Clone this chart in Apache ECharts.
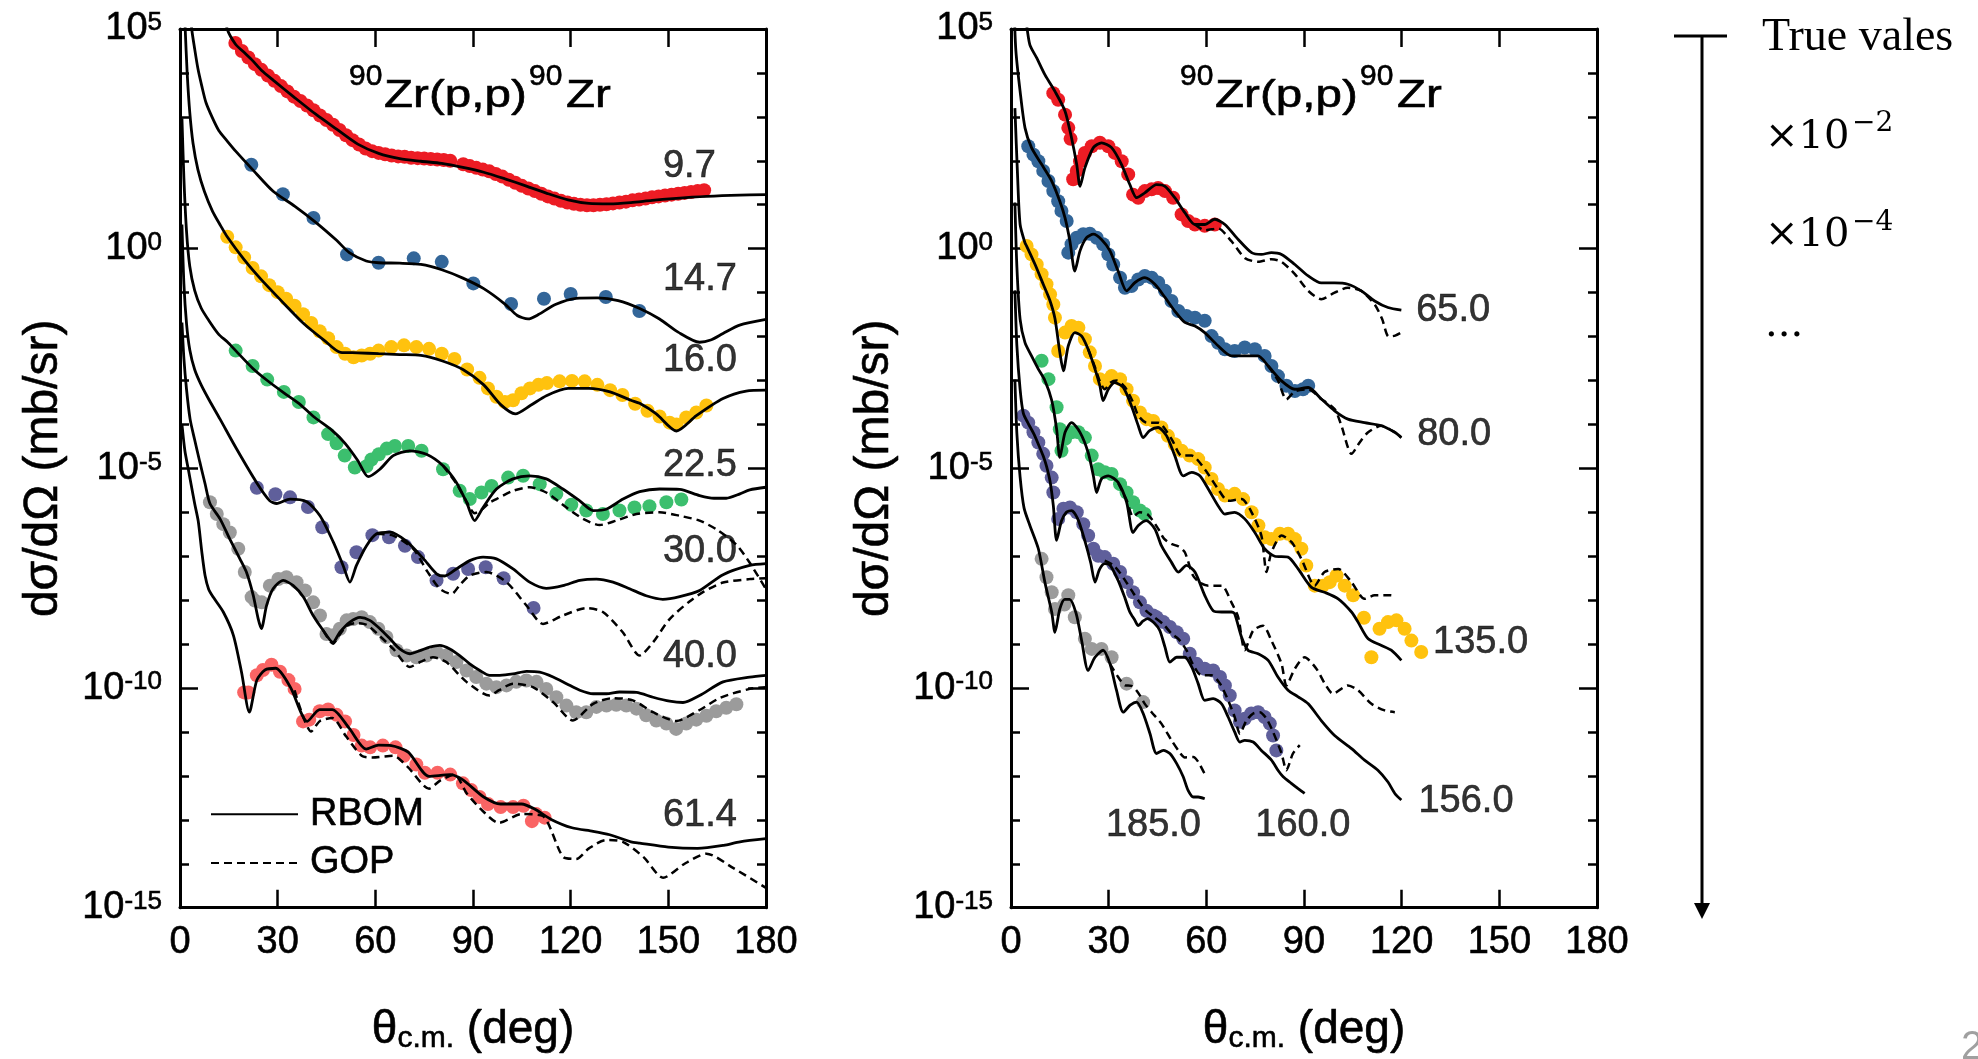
<!DOCTYPE html>
<html><head><meta charset="utf-8">
<script src="https://cdn.jsdelivr.net/npm/echarts@6/dist/echarts.min.js"></script>
<style>html,body{margin:0;padding:0;background:#fff}#c{width:1978px;height:1059px}</style>
</head><body><div id="c"></div>
<script>
// ---------- DATA (x = theta c.m. in deg, y = log10 of plotted dσ/dΩ) ----------
const xTicks = [0, 30, 60, 90, 120, 150, 180];
const yTickExp = [-15, -10, -5, 0, 5];

// Left panel
const L97_rbom = [[13.8,5.4],[14.5,5.0],[17,4.66],[19.5,4.48],[22.3,4.28],[25,4.06],[28.7,3.83],[35.2,3.44],[41.7,3.06],[48.1,2.72],[54.6,2.38],[61,2.17],[67.5,2.05],[74,1.99],[80.4,1.94],[86.9,1.85],[93.3,1.74],[99.8,1.59],[106.2,1.43],[112.7,1.26],[119.2,1.11],[125.6,1.03],[132.1,1.02],[138.5,1.05],[145,1.10],[151.4,1.14],[161.7,1.19],[171.9,1.22],[180,1.23]];
const L97_exp = [[17,4.68],[19,4.50],[21,4.35],[23,4.20],[25,4.07],[27,3.94],[29,3.82],[31,3.70],[33,3.58],[35,3.46],[37,3.36],[39,3.26],[41,3.15],[43,3.03],[45,2.93],[47,2.82],[49,2.70],[51,2.58],[53,2.47],[55,2.37],[57,2.28],[59,2.22],[61,2.18],[63,2.15],[65,2.12],[67,2.10],[69,2.09],[71,2.07],[73,2.06],[75,2.05],[77,2.04],[79,2.03],[81,2.02],[83,2.00],[87,1.92],[89,1.88],[91,1.84],[93,1.80],[95,1.76],[97,1.70],[99,1.64],[101,1.57],[103,1.50],[105,1.43],[107,1.37],[109,1.31],[111,1.25],[113,1.19],[115,1.14],[117,1.09],[119,1.05],[121,1.02],[123,1.00],[125,0.99],[127,0.99],[129,1.00],[131,1.01],[133,1.03],[135,1.05],[137,1.07],[139,1.10],[141,1.12],[143,1.14],[145,1.17],[147,1.19],[149,1.21],[151,1.23],[153,1.25],[155,1.27],[157,1.29],[159,1.31],[161,1.33]];

const L147_rbom = [[3.0,5.6],[3.6,5.0],[4.5,4.55],[5.5,4.10],[6.7,3.70],[8,3.32],[10,2.97],[11.9,2.69],[14.5,2.45],[17.1,2.22],[22.3,1.80],[28.7,1.30],[35.2,0.97],[41.7,0.60],[48.1,0.19],[52,-0.09],[57.2,-0.28],[61,-0.32],[67.5,-0.33],[74,-0.36],[80.4,-0.48],[86.9,-0.67],[93.3,-0.91],[99.8,-1.26],[103.6,-1.52],[106.9,-1.60],[110.1,-1.50],[115.3,-1.27],[121.7,-1.13],[128.2,-1.12],[134.6,-1.18],[141.2,-1.36],[147.3,-1.60],[153,-1.90],[159.6,-2.13],[163,-2.08],[166.8,-1.93],[171.9,-1.74],[180,-1.61]];
const L147_exp = [[21.9,1.91],[31.6,1.24],[41,0.70],[51.3,-0.13],[61,-0.32],[71.8,-0.22],[80.4,-0.30],[90.1,-0.79],[101.7,-1.26],[111.8,-1.14],[120,-1.03],[130.8,-1.10],[141.1,-1.42]];

const L160_rbom = [[1.3,5.5],[1.6,5.0],[2.2,4.0],[3,3.1],[4,2.4],[5.5,1.8],[7.5,1.3],[10,0.85],[12.5,0.52],[14.5,0.27],[19.7,-0.25],[24.9,-0.70],[31.3,-1.20],[37.8,-1.69],[44.2,-2.08],[49.3,-2.36],[54.6,-2.37],[61,-2.39],[67.5,-2.41],[74,-2.43],[80.4,-2.55],[86.9,-2.75],[93.3,-3.10],[98.5,-3.55],[103,-3.76],[107.6,-3.57],[112.7,-3.34],[119.2,-3.18],[125.6,-3.18],[132.1,-3.26],[138.5,-3.45],[141.2,-3.52],[146.3,-3.76],[152.5,-4.15],[158.6,-3.80],[166.8,-3.41],[173.9,-3.24],[180,-3.22]];
const L160_exp = [[14.5,0.27],[17.1,0.03],[19.7,-0.20],[22.3,-0.44],[24.9,-0.63],[27.4,-0.83],[30,-0.99],[32.6,-1.14],[35.2,-1.30],[37.8,-1.49],[40.3,-1.69],[42.9,-1.88],[45.5,-2.04],[48.1,-2.24],[50.7,-2.39],[53.3,-2.47],[55.8,-2.43],[58.4,-2.39],[61,-2.32],[64.9,-2.24],[68.8,-2.20],[72.6,-2.24],[76.5,-2.28],[80.4,-2.39],[84.3,-2.51],[88.2,-2.75],[92,-2.94],[94.6,-3.18],[97.2,-3.37],[99.8,-3.49],[102.3,-3.45],[104.9,-3.29],[107.5,-3.18],[110.1,-3.10],[112.7,-3.06],[116.6,-3.02],[120.4,-3.01],[124.3,-3.02],[128.2,-3.10],[132.1,-3.22],[135.9,-3.33],[139.8,-3.53],[143.6,-3.69],[147.3,-3.82],[150.4,-3.96],[152.5,-4.00],[155.5,-3.84],[158.6,-3.73],[161.7,-3.57]];

const L225_rbom = [[0.6,2.97],[1.2,1.6],[2,0.4],[3,-0.4],[4.5,-0.95],[6.5,-1.35],[9,-1.65],[11.9,-1.95],[14.5,-2.12],[17.1,-2.32],[22.3,-2.72],[26.8,-3.0],[31.9,-3.28],[36.5,-3.52],[41,-3.82],[46.8,-4.14],[50.7,-4.43],[54.6,-4.82],[57.8,-5.19],[61.4,-5.02],[65.5,-4.71],[70.6,-4.60],[75.7,-4.68],[80.8,-4.94],[84.9,-5.32],[88,-5.77],[90.5,-6.19],[93.1,-5.89],[97.2,-5.47],[102.3,-5.24],[107.4,-5.17],[112.5,-5.24],[117.6,-5.47],[122.8,-5.74],[126.9,-5.96],[130.9,-5.93],[136.1,-5.70],[141.2,-5.53],[147.3,-5.47],[153.5,-5.48],[159.6,-5.62],[164,-5.68],[167.8,-5.68],[172,-5.58],[175,-5.49],[180,-5.43]];
const L225_gop = [[80.8,-4.94],[85,-5.36],[88,-5.75],[90.5,-6.02],[92.5,-5.95],[95.1,-5.78],[97.2,-5.70],[102.3,-5.51],[107.4,-5.43],[112.5,-5.55],[118.7,-5.89],[123.8,-6.15],[128.9,-6.29],[134,-6.19],[140.2,-6.04],[147.3,-6.00],[153.5,-6.08],[159.6,-6.19],[165,-6.40],[170.9,-6.74],[175,-7.15],[180,-7.75]];
const L225_exp = [[17.1,-2.32],[22.3,-2.67],[26.8,-2.98],[31.9,-3.26],[36.5,-3.49],[41,-3.84],[45.5,-4.22],[48.1,-4.43],[50.6,-4.71],[53.7,-4.98],[57.3,-4.95],[58.8,-4.80],[61.1,-4.68],[63.5,-4.55],[66,-4.49],[70.1,-4.49],[74.2,-4.60],[80.8,-5.02],[85.9,-5.51],[89,-5.70],[92.6,-5.55],[95.7,-5.40],[100.8,-5.21],[105.4,-5.17],[110.5,-5.36],[115.6,-5.58],[120.2,-5.83],[124.8,-5.96],[129.9,-6.04],[135,-5.96],[139.6,-5.89],[144.2,-5.86],[149.4,-5.77],[154,-5.71]];

const L30_rbom = [[0.6,0.55],[1.2,-0.8],[2,-1.7],[3,-2.3],[4.5,-2.75],[6.5,-3.1],[9,-3.45],[12.3,-3.88],[17.4,-4.56],[23.5,-5.32],[27.6,-5.74],[29.7,-5.80],[33.8,-5.70],[38.9,-5.76],[43,-6.08],[47.1,-6.68],[50.1,-7.21],[52.2,-7.59],[54.2,-7.21],[57.3,-6.76],[60.4,-6.49],[64.5,-6.45],[69.6,-6.66],[74.7,-7.05],[78.8,-7.40],[81.3,-7.45],[84.9,-7.29],[89,-7.10],[93.1,-7.02],[97.2,-7.06],[102.3,-7.29],[107.4,-7.59],[112.5,-7.73],[117.6,-7.67],[122.8,-7.55],[127.9,-7.52],[133,-7.59],[138.1,-7.74],[143.2,-7.90],[148.3,-7.98],[153.5,-7.92],[159.6,-7.78],[166.8,-7.42],[175,-7.21],[180,-7.17]];
const L30_gop = [[60.4,-6.49],[65.5,-6.53],[71.6,-6.83],[76,-7.35],[79.8,-7.74],[83.4,-7.86],[86,-7.65],[89,-7.44],[94.1,-7.36],[100.3,-7.59],[106.4,-8.12],[111.5,-8.54],[117.6,-8.35],[124.8,-8.18],[129.9,-8.27],[136,-8.73],[141.2,-9.26],[145.3,-8.96],[150.4,-8.43],[156.5,-8.03],[161,-7.80],[166.8,-7.60],[175,-7.52],[180,-7.50]];
const L30_exp = [[23.6,-5.44],[29.3,-5.59],[33.8,-5.66],[39.3,-5.88],[43.7,-6.34],[49.6,-7.25],[54.2,-6.91],[59.1,-6.52],[64.2,-6.57],[69.1,-6.76],[73.1,-7.02],[78.8,-7.55],[83.9,-7.40],[88.5,-7.29],[93.9,-7.25],[99.4,-7.50],[108.6,-8.18]];

const L40_rbom = [[0.6,-1.68],[1.2,-2.5],[2,-3.2],[3.1,-3.88],[4.5,-4.35],[6.1,-4.86],[7.7,-5.35],[9.2,-5.80],[12.3,-6.15],[15.3,-6.61],[18.4,-7.06],[20.5,-7.38],[22.5,-7.89],[24,-8.42],[25,-8.65],[26.6,-8.12],[28.6,-7.74],[31.7,-7.55],[34.8,-7.67],[37.9,-7.93],[40.9,-8.35],[44,-8.69],[47,-8.96],[49.1,-8.73],[52.2,-8.50],[55.3,-8.39],[58.3,-8.46],[61.4,-8.65],[64.5,-8.88],[67.5,-9.11],[70.6,-9.22],[73.7,-9.15],[76.7,-9.07],[79.8,-9.03],[82.9,-9.11],[85.9,-9.26],[89,-9.45],[92.1,-9.60],[95.1,-9.71],[98.2,-9.71],[102.3,-9.68],[106.4,-9.62],[110.5,-9.64],[114.6,-9.75],[118.7,-9.90],[122.8,-10.05],[126.9,-10.13],[131,-10.13],[135,-10.09],[140.2,-10.10],[145.3,-10.21],[150.4,-10.30],[154.5,-10.33],[159.6,-10.17],[166.8,-9.86],[175,-9.75],[180,-9.71]];
const L40_gop = [[44,-8.69],[47,-8.99],[49.1,-8.78],[51.2,-8.58],[54,-8.52],[57.3,-8.56],[61.4,-8.82],[65.5,-9.11],[70.6,-9.52],[74,-9.40],[77.7,-9.30],[81.8,-9.41],[88,-9.86],[95.1,-10.17],[98,-10.05],[102.3,-9.90],[108.4,-9.98],[114.6,-10.32],[120.7,-10.74],[126.9,-10.36],[133,-10.23],[139.1,-10.28],[145.3,-10.55],[152.4,-10.75],[159.6,-10.50],[166,-10.22],[175,-10.02],[180,-9.98]];
const L40_exp = [[9.2,-5.77],[11.3,-6.04],[13.3,-6.27],[15.3,-6.46],[17.9,-6.83],[19.9,-7.36],[22,-7.93],[23,-8.01],[25.1,-8.05],[27.6,-7.67],[30.2,-7.52],[32.7,-7.48],[35.8,-7.59],[38.4,-7.78],[40.9,-8.05],[43,-8.35],[45,-8.77],[47.1,-8.80],[49.1,-8.65],[51.2,-8.46],[53.2,-8.43],[55.8,-8.39],[58.3,-8.50],[60.9,-8.65],[63.4,-8.84],[66.5,-9.14],[69.6,-9.26],[72.6,-9.30],[75.7,-9.26],[78.8,-9.18],[81.8,-9.26],[84.9,-9.41],[88,-9.60],[91,-9.75],[94.1,-9.90],[97.2,-9.98],[100.3,-9.94],[103.3,-9.86],[106.4,-9.83],[109.5,-9.86],[112.5,-10.02],[115.6,-10.21],[118.7,-10.40],[121.7,-10.55],[124.8,-10.55],[127.9,-10.43],[131,-10.40],[134,-10.38],[137.1,-10.40],[140.2,-10.47],[143.2,-10.62],[146.3,-10.74],[149.4,-10.81],[152.4,-10.93],[155.5,-10.81],[158.6,-10.72],[161.7,-10.63],[164.7,-10.53],[167.8,-10.45],[170.9,-10.37]];

const L614_rbom = [[0.6,-4.0],[1.5,-4.6],[2.5,-5.0],[3.5,-5.4],[4.5,-5.8],[5.6,-6.2],[6.7,-6.9],[7.7,-7.44],[8.8,-7.75],[10.2,-7.93],[13.3,-8.27],[16.4,-8.80],[18.9,-9.64],[21.3,-10.55],[23.6,-9.82],[26.1,-9.59],[29.4,-9.55],[33.9,-9.98],[39.1,-10.76],[42.9,-10.49],[46.8,-10.49],[52,-10.92],[57.2,-11.39],[61,-11.30],[64.9,-11.31],[70.1,-11.46],[76.5,-12.01],[83,-11.97],[86.9,-12.09],[93.3,-12.48],[98.5,-12.64],[104.9,-12.64],[108.8,-12.75],[114,-12.99],[120.4,-13.18],[126.9,-13.26],[132,-13.34],[138.5,-13.50],[141.2,-13.53],[150,-13.62],[159,-13.65],[167,-13.58],[172,-13.50],[180,-13.43]];
const L614_gop = [[35.2,-10.05],[40.3,-10.99],[43,-10.75],[46.8,-10.68],[51,-11.10],[55.8,-11.54],[59.1,-11.58],[65.5,-11.54],[70,-11.80],[76.5,-12.29],[80,-12.10],[84.3,-11.97],[88.1,-12.40],[93,-12.80],[97.9,-13.07],[104.9,-12.87],[111.4,-12.91],[117.8,-13.85],[121.7,-13.89],[125.6,-13.65],[130.8,-13.46],[136,-13.50],[142.4,-13.85],[148.4,-14.32],[155,-14.00],[161.7,-13.77],[170,-14.10],[180,-14.55]];
const L614_exp = [[19.7,-10.10],[21,-10.10],[23.6,-9.71],[25.5,-9.59],[28.1,-9.47],[30.7,-9.63],[33.3,-9.82],[35.2,-10.02],[37.8,-10.76],[39.7,-10.72],[42.9,-10.53],[45.5,-10.49],[48.1,-10.61],[50.7,-10.76],[53.3,-11.07],[55.8,-11.31],[58.4,-11.35],[62.3,-11.31],[66.2,-11.35],[68.8,-11.54],[72.6,-11.74],[75.2,-11.93],[79.1,-11.93],[83,-11.97],[86.9,-12.17],[89.4,-12.32],[92,-12.48],[94.6,-12.64],[98.5,-12.71],[102.3,-12.71],[105.5,-12.68],[108.1,-13.03],[109.4,-12.87],[112,-12.95]];

// Right panel
const R65_rbom = [[4.5,5.4],[4.8,5.1],[5.8,4.64],[7.9,4.34],[10.4,3.96],[13.5,3.58],[16.6,3.13],[18.6,2.52],[20.2,1.91],[21.2,1.42],[22.7,1.84],[25.3,2.30],[27.8,2.41],[30.9,2.30],[34,1.91],[36.5,1.46],[38.6,1.16],[41.1,1.27],[44.7,1.46],[47.3,1.42],[50.3,1.16],[53.4,0.82],[56.5,0.55],[59.5,0.55],[62.6,0.67],[65.7,0.55],[69.8,0.21],[73.9,-0.09],[76.9,-0.13],[80,-0.09],[83.1,-0.13],[87.2,-0.36],[91.3,-0.62],[95.3,-0.78],[99.4,-0.78],[103.5,-0.81],[107.6,-0.96],[111.7,-1.19],[115.8,-1.34],[119.9,-1.40]];
const R65_gop = [[56.5,0.55],[59.5,0.42],[63.6,0.46],[67.7,0.17],[71.8,-0.21],[75.9,-0.30],[80,-0.24],[83.1,-0.30],[87.2,-0.58],[91.3,-0.96],[95.3,-1.15],[99.4,-1.00],[103.5,-0.89],[107.6,-0.96],[111.7,-1.27],[114,-1.60],[116,-2.00],[118,-1.98],[120.1,-1.90]];
const R65_exp = [[13,3.54],[14.5,3.39],[16.6,3.05],[17.6,2.75],[18.3,2.50],[19.1,1.58],[20.2,1.77],[21.2,1.99],[22.7,2.18],[24.8,2.33],[27.3,2.41],[29.9,2.33],[31.9,2.18],[34,1.99],[36,1.69],[37.5,1.23],[39.1,1.16],[41.1,1.31],[43.2,1.35],[45.2,1.38],[47.3,1.31],[49.8,1.16],[52.4,0.78],[54.4,0.63],[56.5,0.55],[59.5,0.52],[62.6,0.55]];

const R80_rbom = [[1.0,5.4],[1.5,4.5],[2.8,3.58],[4.3,2.75],[6.3,2.30],[9.4,1.92],[12.5,1.54],[15,1.08],[16.6,0.70],[18.1,0.17],[19.6,-0.51],[21.2,-0.05],[23.2,0.25],[25.3,0.33],[27.8,0.21],[30.4,-0.05],[32.9,-0.51],[35.5,-0.96],[38.1,-0.77],[41.1,-0.66],[44.2,-0.81],[47.3,-1.11],[50.3,-1.42],[53.4,-1.68],[56.5,-1.76],[59.5,-1.91],[63.6,-2.21],[67.7,-2.44],[71.8,-2.44],[75.9,-2.44],[79,-2.67],[83.1,-3.01],[87.2,-3.20],[91.3,-3.16],[95.3,-3.42],[99.4,-3.69],[103.5,-3.88],[108.6,-3.96],[113.8,-4.03],[117.9,-4.18],[119.9,-4.30]];
const R80_gop = [[79,-2.67],[82,-3.00],[84.6,-3.43],[87.2,-3.25],[91.3,-3.20],[95.3,-3.42],[99.4,-3.65],[101.5,-4.03],[104.6,-4.67],[107.1,-4.41],[109.7,-4.18],[113.8,-4.03],[117.9,-4.18],[119.9,-4.30]];
const R80_exp = [[5.3,2.33],[6.9,2.14],[8.4,1.99],[9.9,1.77],[11.5,1.54],[13,1.31],[14.5,1.08],[15.5,0.86],[17.1,0.63],[17.6,-0.09],[18.6,0.10],[20.2,0.25],[22.2,0.33],[24.2,0.34],[26.3,0.25],[28.3,0.10],[29.9,-0.13],[31.4,-0.36],[33.5,-0.66],[35,-0.89],[37,-0.85],[39.1,-0.70],[41.1,-0.62],[43.2,-0.66],[45.2,-0.77],[47.3,-0.96],[49.3,-1.19],[51.4,-1.42],[53.9,-1.53],[56.5,-1.57],[59.5,-1.64],[61.6,-1.99],[63.6,-2.14],[65.7,-2.29],[68.7,-2.33],[71.8,-2.25],[74.9,-2.29],[77.9,-2.44],[80,-2.67],[82,-2.90],[84.6,-3.12],[87.2,-3.24],[89.7,-3.20],[91.3,-3.12]];

const R135_rbom = [[1.2,3.2],[2.0,1.69],[2.8,0.55],[4.3,0.13],[4.8,0.06],[7.4,-0.36],[9.9,-0.81],[12,-1.19],[13.5,-1.59],[15,-2.36],[16.1,-2.78],[17.6,-2.21],[19.6,-1.91],[21.7,-1.99],[23.7,-2.29],[25.8,-2.74],[27.3,-3.12],[28.3,-3.46],[29.9,-3.20],[31.9,-3.05],[34.5,-3.16],[37,-3.58],[39.1,-4.03],[40.6,-4.30],[42.6,-4.14],[45.2,-4.07],[47.8,-4.26],[50.3,-4.71],[52.9,-5.17],[55.5,-5.09],[58,-5.17],[60.6,-5.47],[63.6,-5.85],[65.7,-6.04],[68.7,-6.00],[71.8,-6.15],[74.9,-6.46],[77.9,-6.83],[81,-7.00],[85.1,-7.02],[88.2,-7.29],[92.3,-7.71],[96.3,-7.82],[100.5,-7.97],[104.6,-8.27],[106.6,-8.50],[109.7,-8.88],[113.8,-9.03],[116.8,-9.14],[119.9,-9.37]];
const R135_gop = [[23.7,-2.29],[25.8,-2.70],[27.3,-3.02],[28.8,-3.20],[30.5,-3.05],[32.5,-3.00],[35,-3.15],[37.5,-3.50],[39.1,-3.80],[41.7,-3.96],[45.2,-3.96],[49.3,-4.33],[52.4,-4.71],[55.5,-4.71],[59.5,-5.02],[63.6,-5.47],[66.7,-5.74],[70.8,-5.70],[73.9,-6.00],[76.9,-6.53],[78.5,-7.36],[80,-6.91],[83.1,-6.53],[86.2,-6.68],[89.2,-7.06],[93.3,-7.67],[96.3,-7.36],[100.5,-7.29],[104.6,-7.59],[108.6,-7.97],[111.7,-7.89],[116.8,-7.89],[117.9,-7.97]];
const R135_exp = [[4.8,0.06],[6.3,-0.13],[7.9,-0.36],[9.4,-0.58],[10.9,-0.81],[12,-1.04],[13,-1.27],[13.5,-1.57],[14.5,-2.33],[16.6,-1.91],[18.6,-1.76],[20.7,-1.80],[22.7,-2.06],[24.2,-2.36],[25.8,-2.67],[27.3,-2.97],[28.8,-3.05],[30.9,-2.90],[33.5,-2.97],[35.5,-3.20],[37.5,-3.46],[39.6,-3.73],[41.6,-3.88],[43.7,-3.92],[46.2,-4.07],[48.2,-4.26],[50.3,-4.45],[52.4,-4.60],[54.9,-4.71],[57.5,-4.79],[59.5,-4.98],[61.6,-5.24],[63.6,-5.47],[65.7,-5.62],[68.7,-5.58],[71.3,-5.70],[73.9,-6.00],[76,-6.30],[78,-6.57],[80,-6.61],[82.6,-6.49],[85.1,-6.49],[87.2,-6.61],[89.2,-6.83],[90.7,-7.21],[93.3,-7.67],[95.8,-7.67],[97.9,-7.59],[100,-7.44],[102.5,-7.67],[105.1,-7.89],[108.4,-8.40],[110.7,-9.30],[113.2,-8.65],[115.8,-8.50],[118.4,-8.46],[120.9,-8.65],[123,-8.92],[126,-9.18]];

const R156_rbom = [[1.2,1.05],[1.8,-0.4],[2.8,-1.61],[4.3,-2.14],[6.3,-2.44],[8.4,-2.74],[10.4,-3.0],[12.5,-3.45],[14,-4.10],[15,-4.75],[16.6,-4.18],[18.6,-3.96],[21.2,-4.18],[23.7,-4.64],[25.3,-5.17],[26.3,-5.55],[27.8,-5.24],[29.9,-5.17],[32.9,-5.32],[35.5,-5.77],[37.5,-6.46],[39.1,-6.30],[41.6,-6.19],[44.2,-6.38],[46.2,-6.76],[49.3,-7.14],[51.4,-7.36],[53.9,-7.21],[56.5,-7.36],[59.5,-7.89],[62.1,-8.24],[64.7,-8.27],[67.7,-8.27],[68.7,-8.31],[70.8,-8.84],[72.8,-9.14],[75.9,-9.22],[79,-9.37],[82,-9.75],[85.1,-10.05],[88.2,-10.20],[91.3,-10.36],[95.3,-10.74],[99.4,-11.08],[104.6,-11.38],[108.6,-11.64],[112.7,-11.87],[115.8,-12.14],[117.9,-12.40],[119.9,-12.55]];
const R156_gop = [[33,-5.35],[35.5,-5.72],[37.5,-6.10],[39.5,-6.00],[42,-6.05],[45,-6.35],[47,-6.60],[49.3,-6.72],[51.5,-6.78],[53.4,-6.91],[55.9,-7.44],[58,-7.60],[60.6,-7.67],[64.7,-7.67],[67.7,-8.05],[69.8,-8.39],[71.8,-9.14],[74.4,-8.69],[77.4,-8.58],[80,-8.92],[83.1,-9.45],[84.6,-9.94],[87.2,-9.56],[90.2,-9.30],[93.8,-9.56],[96.4,-9.90],[98.9,-10.13],[103.5,-9.94],[106.6,-10.05],[110.7,-10.36],[114.8,-10.51],[117.9,-10.55]];
const R156_exp = [[9.4,-2.55],[11.5,-2.97],[14,-3.61],[15,-4.11],[15.5,-4.60],[16.6,-4.33],[18.6,-4.18],[20.7,-4.18],[22.7,-4.30],[24.8,-4.71],[26.8,-5.02],[28.8,-5.09],[30.9,-5.13],[33.5,-5.36],[35.5,-5.55],[37.5,-5.77],[39.6,-5.96],[41.1,-6.04]];

const R160_rbom = [[1.2,-0.95],[1.8,-2.2],[2.8,-3.2],[3.8,-3.75],[5.3,-3.98],[6.9,-4.2],[8.4,-4.45],[9.9,-4.72],[10.9,-4.95],[12,-5.3],[13,-5.85],[14,-6.64],[15.5,-6.2],[17,-6.0],[18.6,-5.96],[20.5,-6.15],[22.5,-6.6],[24.5,-7.15],[25.8,-7.59],[27.2,-7.3],[28.8,-7.17],[30.4,-7.2],[32.9,-7.55],[35,-7.95],[36.5,-8.27],[38,-8.45],[39.1,-8.58],[40.5,-8.48],[42,-8.42],[44,-8.52],[45.7,-8.69],[47.3,-9.07],[48.8,-9.41],[50.9,-9.30],[53.4,-9.30],[55.5,-9.52],[57.5,-9.90],[59.5,-10.28],[62.1,-10.24],[64.7,-10.36],[66.7,-10.66],[68.7,-11.0],[70.3,-11.23],[71.8,-11.19],[74.4,-11.23],[76.9,-11.42],[80,-11.64],[82,-11.87],[83.6,-12.02],[86.1,-12.17],[88.2,-12.29],[90.2,-12.40]];
const R160_gop = [[28.8,-7.10],[31.4,-7.20],[33.5,-7.38],[35.5,-7.60],[37.5,-7.83],[39.6,-8.06],[41.6,-8.25],[43.7,-8.37],[46.8,-8.55],[49.3,-8.76],[51.4,-8.88],[53.9,-9.14],[56,-9.48],[58.5,-9.71],[61.6,-9.71],[64.2,-9.90],[66.7,-10.28],[68.7,-10.66],[70.3,-11.04],[72.3,-10.74],[74.4,-10.58],[76.4,-10.55],[78.5,-10.70],[80.5,-11.00],[83.1,-11.49],[84.6,-11.87],[86.6,-11.49],[88.7,-11.30]];
const R160_exp = [[3.8,-3.80],[5.3,-3.96],[6.9,-4.18],[8.4,-4.41],[9.9,-4.67],[10.9,-4.94],[12.5,-5.21],[13,-5.55],[14.5,-6.15],[16.1,-5.92],[18.1,-5.89],[20.2,-6.00],[22.2,-6.27],[23.7,-6.53],[25.3,-6.83],[26.8,-6.99],[28.8,-7.02],[31.4,-7.17],[33.5,-7.36],[35.5,-7.59],[37.5,-7.82],[39.6,-8.05],[41.6,-8.24],[43.7,-8.35],[44.7,-8.39],[46.8,-8.50],[48.8,-8.61],[50.9,-8.73],[52.9,-8.88],[54.9,-9.22],[57,-9.45],[59.5,-9.56],[62.1,-9.60],[64.2,-9.75],[65.7,-9.94],[67.2,-10.17],[68.7,-10.51],[70.3,-10.77],[71.8,-10.70],[73.8,-10.58],[75.9,-10.55],[77.9,-10.66],[79.5,-10.81],[80.5,-11.08],[81.5,-11.42]];

const R185_rbom = [[1.2,-2.98],[1.8,-4.2],[2.8,-5.2],[4,-5.9],[5.8,-6.30],[8.4,-6.83],[10.4,-7.59],[12.5,-8.27],[13.5,-8.73],[15,-8.2],[16.5,-7.98],[18,-7.98],[20,-8.3],[21.7,-8.92],[23.7,-9.60],[25.8,-9.30],[28.3,-9.14],[30.4,-9.45],[32.4,-10.05],[34.5,-10.55],[36.6,-10.39],[38.6,-10.32],[40.6,-10.58],[42.7,-11.04],[44.7,-11.49],[46.8,-11.42],[48.8,-11.49],[50.9,-11.72],[52.9,-12.02],[54.4,-12.33],[56,-12.48],[57.5,-12.48],[59.5,-12.52]];
const R185_gop = [[30.4,-9.45],[32.9,-9.75],[35,-9.94],[37,-9.95],[39,-10.10],[41.1,-10.36],[43.2,-10.55],[46.2,-10.81],[49.3,-11.19],[51.4,-11.42],[53.4,-11.58],[56,-11.57],[57.5,-11.68],[59.5,-11.95],[60.2,-11.98]];
const R185_exp = [[9.4,-7.06],[10.9,-7.48],[12.5,-7.82],[13.5,-8.20],[16.4,-8.10],[17.6,-7.89],[19.6,-8.39],[22.7,-8.88],[24.8,-9.11],[27.8,-9.11],[30.9,-9.30],[35.5,-9.90],[40.6,-10.32]];

// energy labels (MeV) and where they sit
const L_labelText = ['9.7','14.7','16.0','22.5','30.0','40.0','61.4'];
const L_labelPos = [[148.2,1.86],[148.2,-0.71],[148.2,-2.55],[148.2,-4.93],[148.2,-6.89],[148.2,-9.28],[148.2,-12.91]];
const R_labelText = ['65.0','80.0','135.0','156.0','185.0','160.0'];
const R_labelPos = [[124.3,-1.41],[124.6,-4.23],[129.5,-8.97],[125,-12.59],[29.0,-13.14],[74.9,-13.14]];

const colors = {red:'#ec1c24', blue:'#336699', yellow:'#ffc20e', green:'#3cbf6e', purple:'#5f5f9b', gray:'#9b9b9b', salmon:'#fa6464'};

// ---------- CHART ----------
const FONT = '"Liberation Sans", Arial, sans-serif';
const TB = {textBorderColor:'#000', textBorderWidth:0.6};
const chart = echarts.init(document.getElementById('c'), null, {renderer:'canvas'});

function mkX(gi, pos, show){
  return {gridIndex:gi, type:'value', position:pos, min:0, max:180, interval:30,
    axisLine:{show:true, onZero:false, lineStyle:{color:'#000', width:3}},
    axisTick:{show:true, inside:true, length:18, lineStyle:{color:'#000', width:2.5}},
    axisLabel:Object.assign({show:show, fontSize:38, color:'#000', fontFamily:FONT, margin:16,
      formatter: v => xTicks.includes(v) ? String(v) : ''}, TB),
    splitLine:{show:false},
    name: show ? '{t|θ}{s|c.m.}{t| (deg)}' : '',
    nameLocation:'middle', nameGap:100,
    nameTextStyle:{rich:{
      t:Object.assign({fontSize:46, lineHeight:46, verticalAlign:'top', fontFamily:FONT, color:'#000'}, TB),
      s:Object.assign({fontSize:30, lineHeight:22, verticalAlign:'bottom', fontFamily:FONT, color:'#000'}, TB)}}
  };
}
function mkY(gi, pos, show){
  return {gridIndex:gi, type:'value', position:pos, min:-15, max:5, interval:5,
    axisLine:{show:true, onZero:false, lineStyle:{color:'#000', width:3}},
    axisTick:{show:true, inside:true, length:18, lineStyle:{color:'#000', width:2.5}},
    minorTick:{show:true, splitNumber:5, length:9, lineStyle:{color:'#000', width:2.5}},
    axisLabel:{show:show, margin:18,
      formatter: v => yTickExp.includes(v) ? '{b|10}{s|' + v + '}' : '',
      rich:{
        b:Object.assign({fontSize:38, lineHeight:38, verticalAlign:'top', fontFamily:FONT, color:'#000'}, TB),
        s:Object.assign({fontSize:26, lineHeight:24, verticalAlign:'top', fontFamily:FONT, color:'#000'}, TB)}},
    splitLine:{show:false}, minorSplitLine:{show:false},
    name: show ? 'dσ/dΩ (mb/sr)' : '', nameLocation:'middle', nameGap:112, nameRotate:90,
    nameTextStyle:Object.assign({fontSize:48, fontFamily:FONT, color:'#000'}, TB)
  };
}
function lineS(data, gi, dashed){
  return {type:'line', name: dashed ? 'GOP' : 'RBOM', xAxisIndex:gi*2, yAxisIndex:gi*2, data:data,
    symbol:'none', showSymbol:false, smooth:0.25, silent:true, z:4,
    lineStyle:{color:'#000', width: dashed ? 2.5 : 2.8, type: dashed ? [8,5] : 'solid'}};
}
function dotS(data, gi, color){
  return {type:'scatter', xAxisIndex:gi*2, yAxisIndex:gi*2, data:data, symbol:'circle',
    symbolSize:14, silent:true, z:2, itemStyle:{color:color, opacity:1}};
}
function labelS(texts, pos, gi){
  return {type:'scatter', xAxisIndex:gi*2, yAxisIndex:gi*2, symbolSize:1, silent:true, z:5,
    itemStyle:{color:'rgba(0,0,0,0)'},
    data: texts.map((t,i) => ({name:t, value:pos[i]})),
    label:Object.assign({show:true, position:'right', distance:0, formatter:'{b}', fontSize:38, color:'#000', fontFamily:FONT}, TB)};
}

const series = [
  dotS(L97_exp,0,colors.red), dotS(L147_exp,0,colors.blue), dotS(L160_exp,0,colors.yellow),
  dotS(L225_exp,0,colors.green), dotS(L30_exp,0,colors.purple), dotS(L40_exp,0,colors.gray), dotS(L614_exp,0,colors.salmon),
  lineS(L97_rbom,0,false), lineS(L147_rbom,0,false), lineS(L160_rbom,0,false), lineS(L225_rbom,0,false),
  lineS(L30_rbom,0,false), lineS(L40_rbom,0,false), lineS(L614_rbom,0,false),
  lineS(L225_gop,0,true), lineS(L30_gop,0,true), lineS(L40_gop,0,true), lineS(L614_gop,0,true),
  dotS(R65_exp,1,colors.red), dotS(R80_exp,1,colors.blue), dotS(R135_exp,1,colors.yellow),
  dotS(R156_exp,1,colors.green), dotS(R160_exp,1,colors.purple), dotS(R185_exp,1,colors.gray),
  lineS(R65_rbom,1,false), lineS(R80_rbom,1,false), lineS(R135_rbom,1,false), lineS(R156_rbom,1,false),
  lineS(R160_rbom,1,false), lineS(R185_rbom,1,false),
  lineS(R65_gop,1,true), lineS(R80_gop,1,true), lineS(R135_gop,1,true), lineS(R156_gop,1,true),
  lineS(R160_gop,1,true), lineS(R185_gop,1,true),
  labelS(L_labelText, L_labelPos, 0), labelS(R_labelText, R_labelPos, 1)
];

// Reaction title: 90Zr(p,p)90Zr, pieces placed one after another
function txt(t, x, y, font, sx, bw){
  return {type:'text', silent:true, x:x, y:y, scaleX:sx || 1,
    style:{text:t, font:font, fill:'#000', stroke:'#000', lineWidth: bw === undefined ? 0.6 : bw, align:'left', verticalAlign:'middle'}};
}
function titleG(x0){
  const SUP = '30px "Liberation Sans"', BASE = '39px "Liberation Sans"';
  return [
    txt('90', x0, 76.5, SUP),
    txt('Zr(p,p)', x0 + 35, 96, BASE, 1.22),
    txt('90', x0 + 180, 76.5, SUP),
    txt('Zr', x0 + 217, 96, BASE, 1.22)
  ];
}
const SERIF_M = '"DejaVu Serif", serif';
const graphics = [].concat(titleG(349), titleG(1180), [
  {type:'line', silent:true, shape:{x1:1674,y1:36,x2:1727,y2:36}, style:{stroke:'#000', lineWidth:3}},
  {type:'line', silent:true, shape:{x1:1702,y1:36,x2:1702,y2:905}, style:{stroke:'#000', lineWidth:3}},
  {type:'polygon', silent:true, shape:{points:[[1694,903],[1710,903],[1702,919]]}, style:{fill:'#000'}},
  txt('True vales', 1762, 37.5, '46px "Liberation Serif", serif', 1, 0),
  txt('×10', 1765, 138, '40px ' + SERIF_M, 1, 0),
  txt('−2', 1852, 124, '28px ' + SERIF_M, 1, 0),
  txt('×10', 1765, 236, '40px ' + SERIF_M, 1, 0),
  txt('−4', 1852, 222.5, '28px ' + SERIF_M, 1, 0),
  txt('...', 1765, 326, '40px ' + SERIF_M, 1, 0),
  {type:'text', silent:true, x:1961, y:1048, style:{text:'2', font:'40px ' + FONT, fill:'#a0a0a0', align:'left', verticalAlign:'middle'}}
]);

chart.setOption({
  animation:false,
  backgroundColor:'#fff',
  grid:[
    {left:180, top:29, width:586, height:880, containLabel:false},
    {left:1011, top:29, width:586, height:880, containLabel:false}
  ],
  xAxis:[mkX(0,'bottom',true), mkX(0,'top',false), mkX(1,'bottom',true), mkX(1,'top',false)],
  yAxis:[mkY(0,'left',true), mkY(0,'right',false), mkY(1,'left',true), mkY(1,'right',false)],
  legend:{data:['RBOM','GOP'], orient:'vertical', left:210, top:795, itemWidth:87, itemHeight:14, itemGap:10,
    selectedMode:false, padding:0,
    itemStyle:{color:'rgba(0,0,0,0)', borderColor:'rgba(0,0,0,0)', borderWidth:0, opacity:0},
    textStyle:Object.assign({fontSize:38, color:'#000', fontFamily:FONT, padding:[0,0,0,7]}, TB)},
  series: series,
  graphic: graphics
});
</script></body></html>
